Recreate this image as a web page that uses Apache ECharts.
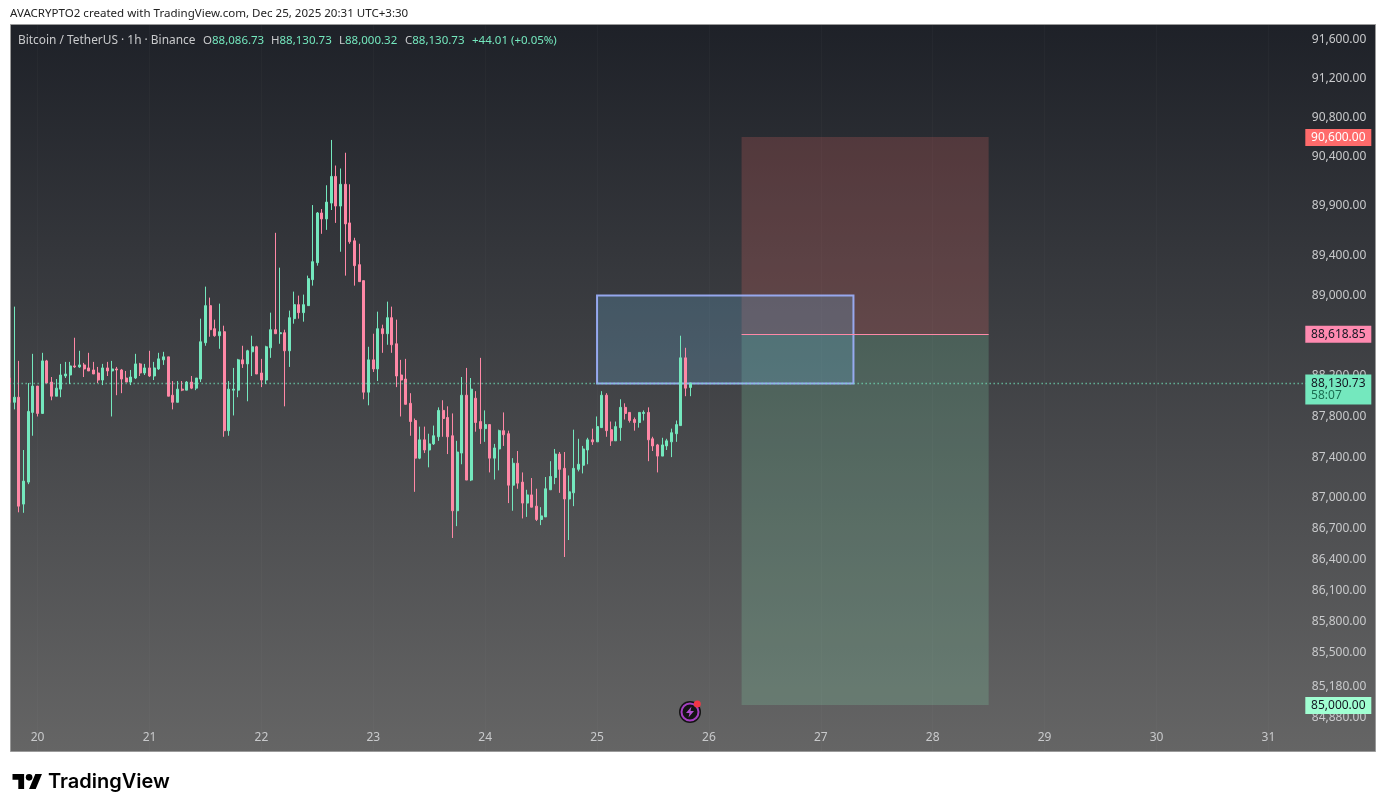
<!DOCTYPE html>
<html>
<head>
<meta charset="utf-8">
<style>html,body{margin:0;padding:0;background:#fff}#main{width:1386px;height:812px}</style>
<script src="https://cdn.jsdelivr.net/npm/echarts@6/dist/echarts.min.js"></script>
</head>
<body>
<div id="main"></div>
<script>
var fontName = '"Noto Sans", sans-serif';

// Hourly candles, Dec 19 18:00 onward
var opens = [88180,87940,87990,86940,87155,87840,88100,87830,88350,88140,88000,88070,88200,88210,88300,88290,88310,88280,88260,88230,88160,88280,88250,88270,88260,88180,88140,88180,88320,88230,88280,88200,88270,88360,88390,88010,87940,88070,88060,88140,88080,88170,88530,88900,88670,88600,88640,87660,88060,88060,88360,88320,88440,88490,88230,88160,88480,88660,88620,88630,88450,88770,88910,88830,88900,89160,89330,89830,89770,89930,90200,89900,90120,89730,89550,89310,89150,88040,88360,88270,88670,88620,88780,88520,88210,88170,87930,87760,87390,87570,87470,87530,87600,87860,87790,87610,86875,87440,88010,87175,87980,87750,87680,87720,87390,87480,87660,87630,87125,87340,87155,86950,87030,86920,86790,86815,87080,87200,87430,87290,86990,87050,87280,87320,87470,87570,87550,87690,88010,87670,87560,87690,87890,87840,87770,87740,87830,87840,87580,87520,87410,87510,87550,87630,87710,88380,88086.73];
var closes = [87940,87990,86920,87165,87850,88100,87830,88350,88130,88000,88080,88210,88220,88300,88290,88310,88270,88250,88220,88160,88280,88250,88270,88260,88170,88140,88190,88320,88230,88280,88200,88280,88370,88390,88000,87940,88070,88060,88140,88080,88180,88540,88900,88660,88600,88640,87660,88070,88070,88360,88320,88450,88490,88220,88160,88490,88660,88620,88630,88450,88780,88910,88830,88910,89170,89340,89830,89770,89940,90200,89900,90120,89720,89540,89300,89140,88040,88360,88270,88670,88620,88780,88510,88200,88160,87920,87750,87390,87570,87470,87530,87610,87860,87780,87600,86875,87450,88010,87175,88070,87740,87680,87720,87390,87490,87660,87620,87125,87340,87145,86950,87030,86910,86790,86825,87090,87210,87430,87280,86990,87060,87290,87330,87480,87570,87550,87700,88010,87660,87560,87700,87890,87830,87760,87740,87840,87840,87570,87510,87410,87520,87560,87640,87720,88380,88080,88130.73];
var lows = [87670,87870,86860,86855,87135,87610,87800,87830,88130,87960,88000,87990,88180,88120,88280,88280,88190,88250,88220,88130,88110,88200,87800,88010,88030,88140,88110,88170,88200,88210,88190,88160,88260,88310,88000,87870,87940,88050,88060,88070,88060,88140,88500,88590,88590,88470,87600,87610,87810,87990,88280,87950,88200,88220,88090,88120,88380,88620,88520,87900,88290,88720,88770,88740,88900,89100,89300,89620,89660,89860,89730,89440,89200,89520,89100,89140,87970,87910,88240,88150,88430,88510,88430,88090,87800,87920,87610,87060,87380,87440,87300,87520,87560,87600,87430,86610,86725,87330,87175,87165,87650,87530,87550,87250,87180,87270,87510,86950,86875,87090,86800,86815,86910,86775,86735,86815,87080,87135,87050,86425,86590,86920,87260,87240,87330,87520,87550,87690,87600,87510,87560,87560,87770,87740,87660,87690,87760,87360,87460,87250,87410,87470,87400,87550,87710,88000,88000.32];
var highs = [89410,88890,88350,87470,88130,88420,88100,88430,88360,88190,88170,88320,88340,88340,88580,88450,88330,88430,88340,88290,88320,88340,88350,88290,88270,88250,88260,88420,88330,88320,88450,88340,88430,88440,88390,88150,88150,88150,88150,88200,88180,88770,89090,88980,88760,88920,88700,88150,88280,88370,88500,88460,88600,88500,88370,88500,88830,89630,89280,88660,88850,89040,89000,89010,89200,89910,89840,89870,90110,90570,90310,90280,90440,90120,89580,89520,89150,88490,88620,88840,88710,88940,88890,88760,88360,88370,88030,87780,87700,87700,87630,87710,87890,87960,87900,87830,87560,88190,88280,88180,88050,88380,87860,87720,87530,87670,87840,87660,87390,87460,87250,87080,87195,87090,86910,87205,87360,87480,87450,87450,87220,87670,87580,87510,87590,87680,87800,88050,88030,87750,87750,87970,87930,87840,87790,87840,87860,87890,87600,87530,87590,87580,87680,87760,88600,88480,88130.73];

// Price scale labels
var priceTicks = [91600,91200,90800,90400,89900,89400,89000,88200,87800,87400,87000,86700,86400,86100,85800,85500,85180,84880];
var dayNumbers = ['19','20','21','22','23','24','25','26','27','28','29','30','31'];

// Drawn position and its levels
var stopPrice = 90600;
var entryPrice = 88618.85;
var targetPrice = 85000;
var lastPrice = 88130.73;
var boxTop = 89000;
var boxBottom = 88125;
var positionFrom = 157, positionTo = 210;
var boxFrom = 126, boxTo = 181;
var tagColumn = 285;

var upColor = '#74e8be';
var downColor = '#ff88a6';
var labelColor = '#c9cacc';

var categories = [];
dayNumbers.forEach(function (d, n) {
    for (var h = n === 0 ? 18 : 0; h < 24; h++) {
        categories.push(d + ' ' + h);
    }
});
categories = categories.slice(0, 292);

var candles = opens.map(function (o, i) {
    return [o, closes[i], lows[i], highs[i]];
});

function isDayStart(i) {
    return categories[i].split(' ')[1] === '0' && categories[i].split(' ')[0] !== '19';
}
function money(v) {
    return v.toLocaleString('en-US', {minimumFractionDigits: 2, maximumFractionDigits: 2});
}
function priceTag(value, text, bg, color, offset, height) {
    return {
        coord: [tagColumn, value],
        symbol: 'rect',
        symbolSize: [66, height || 17],
        symbolOffset: [0, offset || 0.5],
        itemStyle: {color: bg},
        label: {
            show: true, position: 'inside', formatter: text, color: color, fontSize: 12, fontFamily: fontName,
            rich: {
                a: {align: 'left', color: '#131722', fontSize: 12, fontFamily: fontName},
                b: {align: 'left', color: '#1c6e52', fontSize: 12, fontFamily: fontName}
            }
        }
    };
}
function legendPiece(x, text, size) {
    return {
        left: x, top: 35, padding: 0,
        text: text,
        textStyle: {
            fontSize: size || 11.5, fontWeight: 'normal', fontFamily: fontName, color: labelColor,
            rich: {
                l: {fontSize: 11.5, fontFamily: fontName, color: labelColor},
                v: {fontSize: 11.5, fontFamily: fontName, color: upColor}
            }
        }
    };
}

var chart = echarts.init(document.getElementById('main'), null, {renderer: 'canvas'});

var option = {
    animation: false,
    title: [
        {left: 10, top: 8, padding: 0, text: 'AVACRYPTO2 created with TradingView.com, Dec 25, 2025 20:31 UTC+3:30',
            textStyle: {fontSize: 11.55, fontWeight: 'normal', fontFamily: fontName, color: '#222'}},
        legendPiece(18, 'Bitcoin / TetherUS · 1h · Binance', 11.9),
        legendPiece(203, '{l|O}{v|88,086.73}'),
        legendPiece(271, '{l|H}{v|88,130.73}'),
        legendPiece(339, '{l|L}{v|88,000.32}'),
        legendPiece(405, '{l|C}{v|88,130.73}'),
        legendPiece(472, '{v|+44.01 (+0.05%)}')
    ],
    graphic: [
        {
            type: 'rect', z: -10, silent: true,
            shape: {x: 10.5, y: 24.5, width: 1365, height: 727},
            style: {
                stroke: '#9a9a9a', lineWidth: 1,
                fill: new echarts.graphic.LinearGradient(0, 0, 0, 1, [
                    {offset: 0, color: '#1e2128'},
                    {offset: 1, color: '#656565'}
                ])
            }
        },
        {
            // page margin left of the pane, keeps the first clipped candle inside
            type: 'rect', z: 30, silent: true,
            shape: {x: 0, y: 0, width: 10, height: 812},
            style: {fill: '#fff'}
        },
        {
            type: 'group', x: 12.5, y: 770.7, scaleX: 0.83, scaleY: 0.83, silent: true,
            children: [
                {type: 'polygon', shape: {points: [[0, 4], [14, 4], [14, 22], [7, 22], [7, 11], [0, 11]]}, style: {fill: '#000'}},
                {type: 'polygon', shape: {points: [[20, 22], [27.5, 4], [35.5, 4], [28, 22]]}, style: {fill: '#000'}},
                {type: 'circle', shape: {cx: 20, cy: 8, r: 4}, style: {fill: '#000'}}
            ]
        },
        {
            type: 'text', x: 48, y: 782, silent: true,
            style: {text: 'TradingView', fill: '#000', font: '600 20px Inter, sans-serif', textVerticalAlign: 'middle'}
        },
        {
            type: 'group', x: 690, y: 712, z: 20, silent: true,
            children: [
                {type: 'circle', shape: {cx: 0, cy: 0, r: 11}, style: {fill: '#141414'}},
                {type: 'circle', shape: {cx: 0, cy: 0, r: 8.5}, style: {fill: '#141414', stroke: '#a43fc0', lineWidth: 2}},
                {type: 'polygon', shape: {points: [[1.5, -5.5], [-4, 1], [-0.5, 1], [-1.5, 5.5], [4, -1], [0.5, -1]]}, style: {fill: '#b04fd0'}},
                {type: 'circle', shape: {cx: 7.3, cy: -8, r: 3.5}, style: {fill: '#f23645'}}
            ]
        }
    ],
    grid: {left: 9.64, right: 19.72, top: 25, bottom: 61},
    xAxis: {
        type: 'category',
        data: categories,
        boundaryGap: false,
        axisLine: {show: false},
        axisTick: {show: false},
        axisLabel: {
            inside: true,
            margin: 7,
            color: labelColor,
            fontSize: 12,
            fontFamily: fontName,
            interval: function (i) { return isDayStart(i); },
            formatter: function (v) { return v.split(' ')[0]; }
        },
        splitLine: {
            show: true,
            interval: function (i) { return isDayStart(i); },
            lineStyle: {color: 'rgba(255,255,255,0.025)'}
        }
    },
    yAxis: {
        type: 'log',
        logBase: 10,
        position: 'right',
        min: 84562,
        max: 91747,
        axisLine: {show: false},
        axisTick: {show: false},
        axisLabel: {
            inside: true,
            margin: 0,
            color: labelColor,
            fontSize: 12,
            fontFamily: fontName,
            padding: [0, 0, 4, 0],
            customValues: priceTicks,
            formatter: function (v) { return money(v); }
        },
        splitLine: {show: false}
    },
    series: [{
        type: 'candlestick',
        data: candles,
        barWidth: 2.5,
        itemStyle: {
            color: upColor, color0: downColor,
            borderColor: upColor, borderColor0: downColor,
            borderColorDoji: upColor,
            borderWidth: 1
        },
        markArea: {
            silent: true,
            data: [
                [{coord: [positionFrom, stopPrice], itemStyle: {color: 'rgba(250,110,105,0.2)'}}, {coord: [positionTo, entryPrice]}],
                [{coord: [positionFrom, entryPrice], itemStyle: {color: 'rgba(136,232,180,0.2)'}}, {coord: [positionTo, targetPrice]}],
                [{coord: [boxFrom, boxTop], itemStyle: {color: 'rgba(102,171,211,0.25)', borderColor: 'rgba(156,176,251,0.92)', borderWidth: 2}}, {coord: [boxTo, boxBottom]}]
            ]
        },
        markLine: {
            silent: true,
            symbol: 'none',
            label: {show: false},
            data: [
                {yAxis: lastPrice, lineStyle: {color: upColor, type: [1, 3], width: 1.3}},
                [{coord: [positionFrom, entryPrice], lineStyle: {color: '#ff88a6', type: 'solid', width: 1}}, {coord: [positionTo, entryPrice]}]
            ]
        },
        markPoint: {
            silent: true,
            data: [
                priceTag(stopPrice, money(stopPrice), '#ff6b6b', '#ffffff'),
                priceTag(entryPrice, money(entryPrice), '#ff8ab0', '#131722'),
                priceTag(targetPrice, money(targetPrice), '#a1ffd2', '#131722'),
                priceTag(lastPrice, '{a|' + money(lastPrice) + '}\n{b|58:07}', upColor, '#131722', 6.5, 30)
            ]
        }
    }]
};

chart.setOption(option);

window.onresize = chart.resize;
</script>
</body>
</html>
